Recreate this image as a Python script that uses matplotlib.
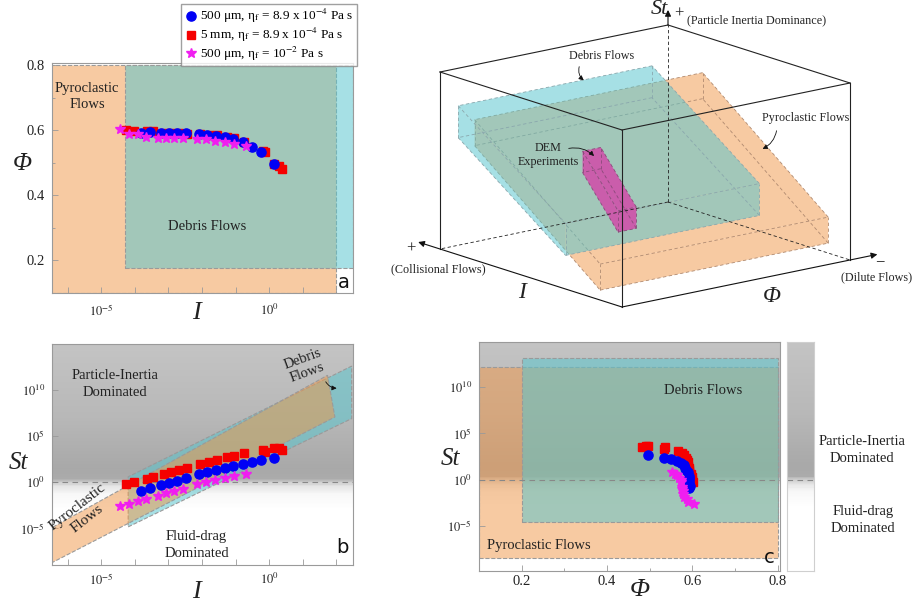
import numpy as np
import matplotlib
matplotlib.use('Agg')
import matplotlib.pyplot as plt
from matplotlib.colors import LinearSegmentedColormap, to_rgba
from matplotlib.patches import Polygon
from matplotlib.ticker import FixedLocator, FuncFormatter

plt.rcParams['font.family'] = ['Liberation Serif', 'DejaVu Serif']
plt.rcParams['mathtext.fontset'] = 'stix'

# ---------------- data ----------------
# 500 um, eta_f = 8.9e-4 Pa s  (blue circles)
logI_blue = [-3.81, -3.54, -3.22, -2.98, -2.75, -2.49, -2.10, -1.85, -1.58, -1.31, -1.08, -0.78, -0.50, -0.24, 0.15]
logSt_blue = [-0.94, -0.69, -0.33, -0.07, 0.14, 0.40, 0.83, 1.05, 1.30, 1.56, 1.77, 1.96, 2.21, 2.39, 2.64]
phi_blue = [0.592, 0.594, 0.591, 0.591, 0.592, 0.591, 0.589, 0.586, 0.583, 0.579, 0.574, 0.564, 0.550, 0.533, 0.497]

# 5 mm, eta_f = 8.9e-4 Pa s  (red squares)
logI_red = [-4.26, -4.02, -3.64, -3.46, -3.14, -2.93, -2.68, -2.45, -2.05, -1.80, -1.54, -1.26, -1.06, -0.74,
            -0.17, -0.11, 0.15, 0.28, 0.38]
logSt_red = [-0.25, -0.03, 0.29, 0.58, 0.83, 1.05, 1.30, 1.49, 1.92, 2.14, 2.39, 2.68, 2.86, 3.12,
             3.48, 3.30, 3.66, 3.66, 3.48]
phi_red = [0.602, 0.599, 0.598, 0.597, 0.593, 0.593, 0.593, 0.590, 0.590, 0.587, 0.585, 0.580, 0.575, 0.565,
           0.535, 0.533, 0.495, 0.490, 0.482]

# 500 um, eta_f = 1e-2 Pa s  (magenta stars)
logI_mag = [-4.43, -4.19, -3.92, -3.68, -3.31, -3.07, -2.82, -2.57, -2.15, -1.88, -1.61, -1.31, -1.06, -0.68]
logSt_mag = [-2.61, -2.39, -2.07, -1.85, -1.52, -1.23, -0.98, -0.76, -0.25, -0.03, 0.22, 0.47, 0.65, 0.87]
phi_mag = [0.604, 0.589, 0.588, 0.580, 0.577, 0.577, 0.575, 0.575, 0.572, 0.572, 0.568, 0.564, 0.558, 0.551]

legend_labels = ['500 \u03bcm, \u03b7$_{\\rm f}$ = 8.9 x 10$^{-4}$ Pa s',
                 '5 mm, \u03b7$_{\\rm f}$ = 8.9 x 10$^{-4}$ Pa s',
                 '500 \u03bcm, \u03b7$_{\\rm f}$ = 10$^{-2}$ Pa s']

# flow regimes, panel a (I range as log10, phi range)
a_pyro_logI = [-6.5, 2.0]
a_pyro_phi = [0.1, 0.8]
a_debris_logI = [-4.3, 2.5]
a_debris_phi = [0.178, 0.8]

# flow regimes, panel b (polygons in log10 I / log10 St)
b_pyro_logI = [-6.5, 1.96, 1.74, -6.5]
b_pyro_logSt = [-8.8, 7.07, 11.6, -5.0]
b_debris_logI = [-4.2, 2.46, 2.46, -4.2]
b_debris_logSt = [-4.86, 6.9, 12.6, 0.58]

# flow regimes, panel c (phi range, log10 St range)
c_pyro_phi = [0.1, 0.8]
c_pyro_logSt = [-8.5, 12.2]
c_debris_phi = [0.2, 0.8]
c_debris_logSt = [-4.57, 13.2]

# 3D schematic slabs: i0, i1, p0, p1, base height, thickness, slope (normalised box units)
slab_pyro = (0.12, 0.81, 0.0, 1.0, 0.056, 0.147, 0.855)
slab_debris = (0.31, 0.90, 0.0, 0.85, 0.19, 0.18, 0.80)
slab_dem = (0.385, 0.58, 0.29, 0.37, 0.22, 0.12, 1.40)

# ---------------- styling ----------------
ORANGE = '#F19747'
CYAN = '#57C6CE'
BLUE = '#0000F5'
RED = '#F50000'
MAG = '#F01EF0'
SPINE = '#9a9a9a'
TXT = '#222222'

grad_stops = [-10, -3, -1.3, -0.5, 0.0, 0.4, 1.5, 7, 15.5]
grad_gray = [1.0, 1.0, 0.97, 0.9, 0.8, 0.67, 0.66, 0.72, 0.77]
lo, hi = grad_stops[0], grad_stops[-1]
bg_cmap = LinearSegmentedColormap.from_list(
    'bg', [((v - lo) / (hi - lo), (g, g, g)) for v, g in zip(grad_stops, grad_gray)])

W, H = 915, 605
fig = plt.figure(figsize=(W / 100, H / 100), dpi=100)


def rect(x0, y0, x1, y1):
    return [x0 / W, 1 - y1 / H, (x1 - x0) / W, (y1 - y0) / H]


def style_axes(ax, xpad=3, ypad=5):
    for sp in ax.spines.values():
        sp.set_color(SPINE)
        sp.set_linewidth(0.8)
    ax.tick_params(which='both', direction='in', color=SPINE, width=0.6,
                   labelsize=10.5, labelcolor=TXT, top=False, right=False)
    ax.tick_params(axis='x', pad=xpad)
    ax.tick_params(axis='y', pad=ypad)
    ax.tick_params(which='major', length=4)
    ax.tick_params(which='minor', length=2.5)


def log_ticks(ax, which, decades, labelled):
    axis = ax.xaxis if which == 'x' else ax.yaxis
    axis.set_major_locator(FixedLocator([10.0 ** d for d in decades]))
    axis.set_major_formatter(FuncFormatter(
        lambda v, pos: r'$10^{%d}$' % round(np.log10(v)) if round(np.log10(v)) in labelled else ''))
    axis.set_minor_locator(FixedLocator([]))
    ax.tick_params(axis=which, labelsize=9)


def labels(ax, xl, xc, yl, yc, size=18):
    ax.set_xlabel(xl, fontsize=size, style='italic', color=TXT, va='center', ha='center')
    ax.xaxis.set_label_coords(*xc)
    ax.set_ylabel(yl, fontsize=size - 1, style='italic', color=TXT, rotation=0, va='center', ha='center')
    ax.yaxis.set_label_coords(*yc)


def gradient(ax, x_edges, logst_lo, logst_hi, log_y=True):
    ye = np.linspace(logst_lo, logst_hi, 300)
    C = 0.5 * (ye[1:] + ye[:-1])[:, None]
    Y = 10.0 ** ye if log_y else ye
    ax.pcolormesh(x_edges, Y, C, cmap=bg_cmap, vmin=lo, vmax=hi, shading='flat', zorder=0, rasterized=True)


def region(ax, xs, ys, color, alpha, z):
    ax.fill(xs, ys, facecolor=to_rgba(color, alpha), edgecolor='#9a9a9a', ls='--', lw=0.8, zorder=z)


def box(xr, yr):
    return [xr[0], xr[1], xr[1], xr[0]], [yr[0], yr[0], yr[1], yr[1]]


def scatter_sets(ax, xs, ys):
    h_red, = ax.plot(xs[1], ys[1], ls='none', marker='s', ms=5.6, color=RED, mec=RED, zorder=5)
    h_blue, = ax.plot(xs[0], ys[0], ls='none', marker='o', ms=6.6, color=BLUE, mec=BLUE, zorder=6)
    h_mag, = ax.plot(xs[2], ys[2], ls='none', marker='*', ms=7, color=MAG, mec=MAG, zorder=7)
    return h_blue, h_red, h_mag


def panel_letter(ax, s, x, y):
    ax.text(x, y, s, transform=ax.transAxes, ha='center', va='center',
            fontsize=14, family='DejaVu Sans', color='#111', zorder=9)


I_blue, I_red, I_mag = (10.0 ** np.array(v) for v in (logI_blue, logI_red, logI_mag))
St_blue, St_red, St_mag = (10.0 ** np.array(v) for v in (logSt_blue, logSt_red, logSt_mag))
XLIM_I = (10 ** -6.47, 10 ** 2.5)

# ---------------- panel a ----------------
ax_a = fig.add_axes(rect(52, 63, 353, 293))
ax_a.set_xscale('log')
x, y = box(10.0 ** np.array(a_pyro_logI), a_pyro_phi)
region(ax_a, x, y, ORANGE, 0.5, 1)
x, y = box(10.0 ** np.array(a_debris_logI), a_debris_phi)
region(ax_a, x, y, CYAN, 0.53, 2)
handles = scatter_sets(ax_a, (I_blue, I_red, I_mag), (phi_blue, phi_red, phi_mag))
ax_a.set_xlim(*XLIM_I)
ax_a.set_ylim(0.1, 0.807)
style_axes(ax_a, xpad=7)
log_ticks(ax_a, 'x', range(-6, 3), (-5, 0))
ax_a.yaxis.set_major_locator(FixedLocator([0.2, 0.4, 0.6, 0.8]))
ax_a.yaxis.set_minor_locator(FixedLocator([0.3, 0.5, 0.7]))
labels(ax_a, 'I', (0.48, -0.085), '\u03a6', (-0.1, 0.56), size=19)
ax_a.text(0.117, 0.855, 'Pyroclastic\nFlows', transform=ax_a.transAxes, ha='center', va='center',
          fontsize=10.5, color=TXT, linespacing=1.35)
ax_a.text(0.515, 0.29, 'Debris Flows', transform=ax_a.transAxes, ha='center', va='center',
          fontsize=10.5, color=TXT)
panel_letter(ax_a, 'a', 0.968, 0.045)

fig.legend(handles, legend_labels, loc='upper right', bbox_to_anchor=(357 / W, 1 - 4 / H),
           fontsize=9.5, frameon=True, fancybox=False, edgecolor='#888', borderpad=0.25,
           handletextpad=0.2, labelspacing=0.05, handlelength=1.0, borderaxespad=0)

# ---------------- panel b ----------------
ax_b = fig.add_axes(rect(52, 344, 353, 565))
ax_b.set_xscale('log')
ax_b.set_yscale('log')
gradient(ax_b, XLIM_I, -10, 15.5)
region(ax_b, 10.0 ** np.array(b_debris_logI), 10.0 ** np.array(b_debris_logSt), CYAN, 0.53, 1)
region(ax_b, 10.0 ** np.array(b_pyro_logI), 10.0 ** np.array(b_pyro_logSt), ORANGE, 0.5, 2)
ax_b.axhline(1, color='#888', ls=(0, (5, 4)), lw=0.8, zorder=3)
scatter_sets(ax_b, (I_blue, I_red, I_mag), (St_blue, St_red, St_mag))
ax_b.set_xlim(*XLIM_I)
ax_b.set_ylim(10 ** -9.0, 10 ** 15.0)
style_axes(ax_b, xpad=5)
log_ticks(ax_b, 'x', range(-6, 3), (-5, 0))
log_ticks(ax_b, 'y', (-5, 0, 5, 10), (-5, 0, 5, 10))
labels(ax_b, 'I', (0.48, -0.12), 'St', (-0.11, 0.46), size=19)
ax_b.text(0.21, 0.82, 'Particle-Inertia\nDominated', transform=ax_b.transAxes, ha='center', va='center',
          fontsize=10.5, color=TXT, linespacing=1.35)
ax_b.text(0.48, 0.09, 'Fluid-drag\nDominated', transform=ax_b.transAxes, ha='center', va='center',
          fontsize=10.5, color=TXT, linespacing=1.35)
ax_b.text(0.1, 0.235, 'Pyroclastic\nFlows', transform=ax_b.transAxes, ha='center', va='center',
          fontsize=11, color=TXT, rotation=38, linespacing=1.2)
ax_b.text(0.84, 0.9, 'Debris\nFlows', transform=ax_b.transAxes, ha='center', va='center',
          fontsize=10.5, color=TXT, rotation=20, linespacing=1.1)
ax_b.annotate('', xy=(0.955, 0.8), xytext=(0.905, 0.84), xycoords='axes fraction',
              arrowprops=dict(arrowstyle='-|>', color='#111', lw=0.6, mutation_scale=7,
                              connectionstyle='arc3,rad=0.35'))
panel_letter(ax_b, 'b', 0.965, 0.08)

# ---------------- panel c ----------------
ax_c = fig.add_axes(rect(479, 342, 780, 571))
ax_c.set_yscale('log')
gradient(ax_c, (0.1, 0.805), -10, 15.5)
x, y = box(c_pyro_phi, 10.0 ** np.array(c_pyro_logSt))
region(ax_c, x, y, ORANGE, 0.5, 1)
x, y = box(c_debris_phi, 10.0 ** np.array(c_debris_logSt))
region(ax_c, x, y, CYAN, 0.53, 2)
ax_c.axhline(1, color='#888', ls=(0, (5, 4)), lw=0.8, zorder=3)
scatter_sets(ax_c, (phi_blue, phi_red, phi_mag), (St_blue, St_red, St_mag))
ax_c.set_xlim(0.1, 0.805)
ax_c.set_ylim(10 ** -9.9, 10 ** 14.9)
style_axes(ax_c, xpad=3)
ax_c.xaxis.set_major_locator(FixedLocator([0.2, 0.4, 0.6, 0.8]))
ax_c.xaxis.set_minor_locator(FixedLocator([0.3, 0.5, 0.7]))
log_ticks(ax_c, 'y', (-5, 0, 5, 10), (-5, 0, 5, 10))
labels(ax_c, '\u03a6', (0.535, -0.085), 'St', (-0.095, 0.49), size=19)
ax_c.text(0.745, 0.79, 'Debris Flows', transform=ax_c.transAxes, ha='center', va='center',
          fontsize=10.5, color=TXT)
ax_c.text(0.2, 0.11, 'Pyroclastic Flows', transform=ax_c.transAxes, ha='center', va='center',
          fontsize=10.5, color=TXT)
panel_letter(ax_c, 'c', 0.963, 0.06)

# colour bar for panel c
ax_cb = fig.add_axes(rect(787, 342, 814, 571))
gradient(ax_cb, (0, 1), -10, 15.5, log_y=False)
ax_cb.axhline(0, color='#888', ls=(0, (5, 4)), lw=0.8)
ax_cb.set_xlim(0, 1)
ax_cb.set_ylim(-9.9, 14.9)
ax_cb.set_xticks([])
ax_cb.set_yticks([])
for sp in ax_cb.spines.values():
    sp.set_color('#cfcfcf')
fig.text(862 / W, 1 - 450 / H, 'Particle-Inertia\nDominated', ha='center', va='center',
         fontsize=10.5, color=TXT, linespacing=1.35)
fig.text(863 / W, 1 - 520 / H, 'Fluid-drag\nDominated', ha='center', va='center',
         fontsize=10.5, color=TXT, linespacing=1.35)

# ---------------- 3D schematic ----------------
ax3 = fig.add_axes(rect(390, 0, 915, 330))
ax3.set_xlim(390, 915)
ax3.set_ylim(330, 0)
ax3.axis('off')


def proj(i, p, s):
    return 622 - 182 * i + 228 * p, 307 - 58 * i - 47 * p - 177 * s


def draw_slab(slab, color, alpha, edge, z):
    i0, i1, p0, p1, s0, th, k = slab
    pt = {}
    for a, ii in (('0', i0), ('1', i1)):
        for b, pp in (('0', p0), ('1', p1)):
            sb = s0 + k * (ii - i0)
            pt['b' + a + b] = proj(ii, pp, sb)
            pt['t' + a + b] = proj(ii, pp, sb + th)
    for face in (('t00', 't01', 't11', 't10'), ('b00', 'b01', 't01', 't00'), ('b00', 'b10', 't10', 't00')):
        ax3.add_patch(Polygon([pt[f] for f in face], closed=True, facecolor=to_rgba(color, alpha),
                              edgecolor='none', zorder=z))
    edges = [('b00', 'b01'), ('b01', 'b11'), ('b11', 'b10'), ('b10', 'b00'),
             ('t00', 't01'), ('t01', 't11'), ('t11', 't10'), ('t10', 't00'),
             ('b00', 't00'), ('b01', 't01'), ('b10', 't10'), ('b11', 't11')]
    for e0, e1 in edges:
        ax3.plot([pt[e0][0], pt[e1][0]], [pt[e0][1], pt[e1][1]], color=edge, ls=(0, (4, 3)),
                 lw=0.6, zorder=z + 0.5)


draw_slab(slab_pyro, ORANGE, 0.5, '#b08a70', 2)
draw_slab(slab_debris, CYAN, 0.53, '#8aa7ad', 3)
draw_slab(slab_dem, '#D04FAA', 0.88, '#8a4a7a', 4)

# outer box
solid = [((0, 0, 0), (0, 0, 1)), ((1, 0, 0), (1, 0, 1)), ((0, 1, 0), (0, 1, 1)),
         ((0, 0, 1), (1, 0, 1)), ((1, 0, 1), (1, 1, 1)), ((1, 1, 1), (0, 1, 1)), ((0, 1, 1), (0, 0, 1))]
dashed = [((1, 1, 0), (1, 0, 0)), ((1, 1, 0), (0, 1, 0)), ((1, 1, 0), (1, 1, 1))]
for a, b in solid:
    pa, pb = proj(*a), proj(*b)
    ax3.plot([pa[0], pb[0]], [pa[1], pb[1]], color='#222', lw=0.8, zorder=6)
for a, b in dashed:
    pa, pb = proj(*a), proj(*b)
    ax3.plot([pa[0], pb[0]], [pa[1], pb[1]], color='#222', lw=0.6, ls=(0, (4, 3)), zorder=6)

arrow_kw = dict(arrowstyle='-|>', color='#111', lw=0.8, mutation_scale=9, shrinkA=0, shrinkB=0)
ax3.annotate('', xy=proj(1.12, 0, 0), xytext=proj(0, 0, 0), arrowprops=arrow_kw, zorder=7)
ax3.annotate('', xy=proj(0, 1.12, 0), xytext=proj(0, 0, 0), arrowprops=arrow_kw, zorder=7)
ax3.annotate('', xy=proj(1, 1, 1.085), xytext=proj(1, 1, 1), arrowprops=arrow_kw, zorder=7)

SMALL = 8.7
ax3.text(659, 9, 'St', fontsize=16, style='italic', ha='center', va='center', color=TXT)
ax3.text(679, 14, '+', fontsize=12, ha='center', va='center', color=TXT)
ax3.text(687, 20, '(Particle Inertia Dominance)', fontsize=SMALL, ha='left', va='center', color=TXT)
ax3.text(411, 249, '+', fontsize=12, ha='center', va='center', color=TXT)
ax3.text(438, 269, '(Collisional Flows)', fontsize=SMALL, ha='center', va='center', color=TXT)
ax3.text(522, 293, 'I', fontsize=17, style='italic', ha='center', va='center', color=TXT)
ax3.text(772, 297, '\u03a6', fontsize=17, style='italic', ha='center', va='center', color=TXT)
ax3.text(880, 262, '\u2212', fontsize=12, ha='center', va='center', color=TXT)
ax3.text(877, 277, '(Dilute Flows)', fontsize=SMALL, ha='center', va='center', color=TXT)
ax3.text(602, 56, 'Debris Flows', fontsize=SMALL, ha='center', va='center', color=TXT)
ax3.text(806, 118, 'Pyroclastic Flows', fontsize=SMALL, ha='center', va='center', color=TXT)
ax3.text(548, 155, 'DEM\nExperiments', fontsize=SMALL, ha='center', va='center', color=TXT,
         linespacing=1.3, zorder=8)
small_arrow = dict(arrowstyle='-|>', color='#111', lw=0.6, mutation_scale=7)
ax3.annotate('', xy=(586, 82), xytext=(580, 64),
             arrowprops=dict(small_arrow, connectionstyle='arc3,rad=0.4'), zorder=8)
ax3.annotate('', xy=(760, 150), xytext=(777, 128),
             arrowprops=dict(small_arrow, connectionstyle='arc3,rad=-0.3'), zorder=8)
ax3.annotate('', xy=(596, 158), xytext=(566, 149),
             arrowprops=dict(small_arrow, connectionstyle='arc3,rad=-0.3'), zorder=8)

fig.savefig('out.png', dpi=100)
